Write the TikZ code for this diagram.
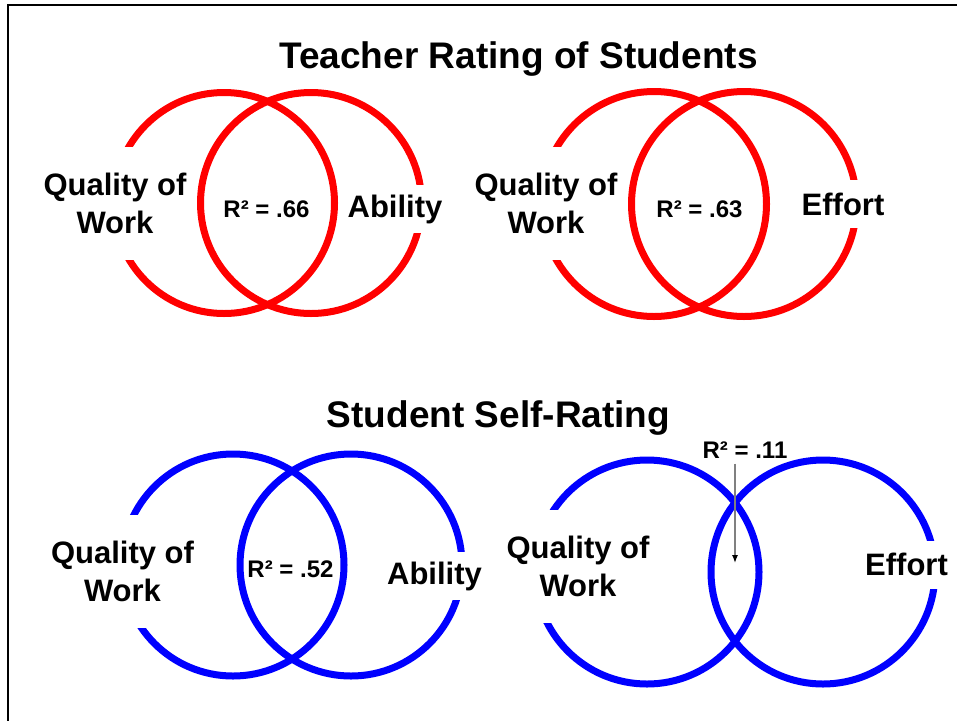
\documentclass[tikz,border=0pt]{standalone}
\usepackage{fontspec}
\setmainfont{Liberation Sans}
\usetikzlibrary{arrows.meta,positioning}
\definecolor{ringred}{RGB}{255,0,0}
\definecolor{ringblue}{RGB}{0,0,255}

\begin{document}
\begin{tikzpicture}[x=1pt,y=-1pt,
	ring/.style={line width=7pt},
	title/.style={anchor=base,font=\fontsize{37}{44}\selectfont\bfseries},
	qual/.style={fill=white,align=center,inner xsep=4pt,minimum height=113pt,font=\fontsize{31}{38}\selectfont\bfseries},
	side/.style={fill=white,inner xsep=4pt,minimum height=48pt,font=\fontsize{31}{38}\selectfont\bfseries},
	rsq/.style={anchor=base,font=\fontsize{24}{28}\selectfont\bfseries},
	ptr/.style={draw=gray,line width=1.3pt,shorten <=2pt,-{Latex[length=8pt,width=6pt,color=black]}}]
	\useasboundingbox (0,0) rectangle (957,721);
	\draw[line width=2pt] (957,5) -- (8,5) -- (8,721);

	\draw[ring,ringred] (224,203) circle [radius=110.5pt];
	\draw[ring,ringred] (311,203) circle [radius=110.5pt];
	\draw[ring,ringred] (654,204) circle [radius=112.5pt];
	\draw[ring,ringred] (744,204) circle [radius=112.5pt];
	\draw[ring,ringblue] (233,565) circle [radius=111pt];
	\draw[ring,ringblue] (351,565) circle [radius=111pt];
	\draw[ring,ringblue] (647,572) circle [radius=112pt];
	\draw[ring,ringblue] (823,572) circle [radius=112pt];

	\node (teacher) at (518.5,68) [title] {Teacher Rating of Students};
	\node (student) at (498.5,427) [title] {Student Self-Rating};

	\node (qualA) at (115,203) [qual] {Quality of\\Work};
	\node (abilA) at (395,209) [side] {Ability};
	\node (rA) at (266.5,217) [rsq] {R² = .66};

	\node (qualB) at (546,203) [qual] {Quality of\\Work};
	\node (effB) at (843,204) [side] {Effort};
	\node (rB) at (699.5,217) [rsq] {R² = .63};

	\node (qualC) at (122.5,571) [qual] {Quality of\\Work};
	\node (abilC) at (434.5,576) [side] {Ability};
	\node (rC) at (290.5,577) [rsq] {R² = .52};

	\node (qualD) at (578,566) [qual] {Quality of\\Work};
	\node (effD) at (906.5,564.5) [side] {Effort};
	\node (rD) at (745,458) [rsq] {R² = .11};
	\coordinate (lens) at (735,563);
	\draw[ptr] (rD.south -| lens) -- (lens);
\end{tikzpicture}
\end{document}
